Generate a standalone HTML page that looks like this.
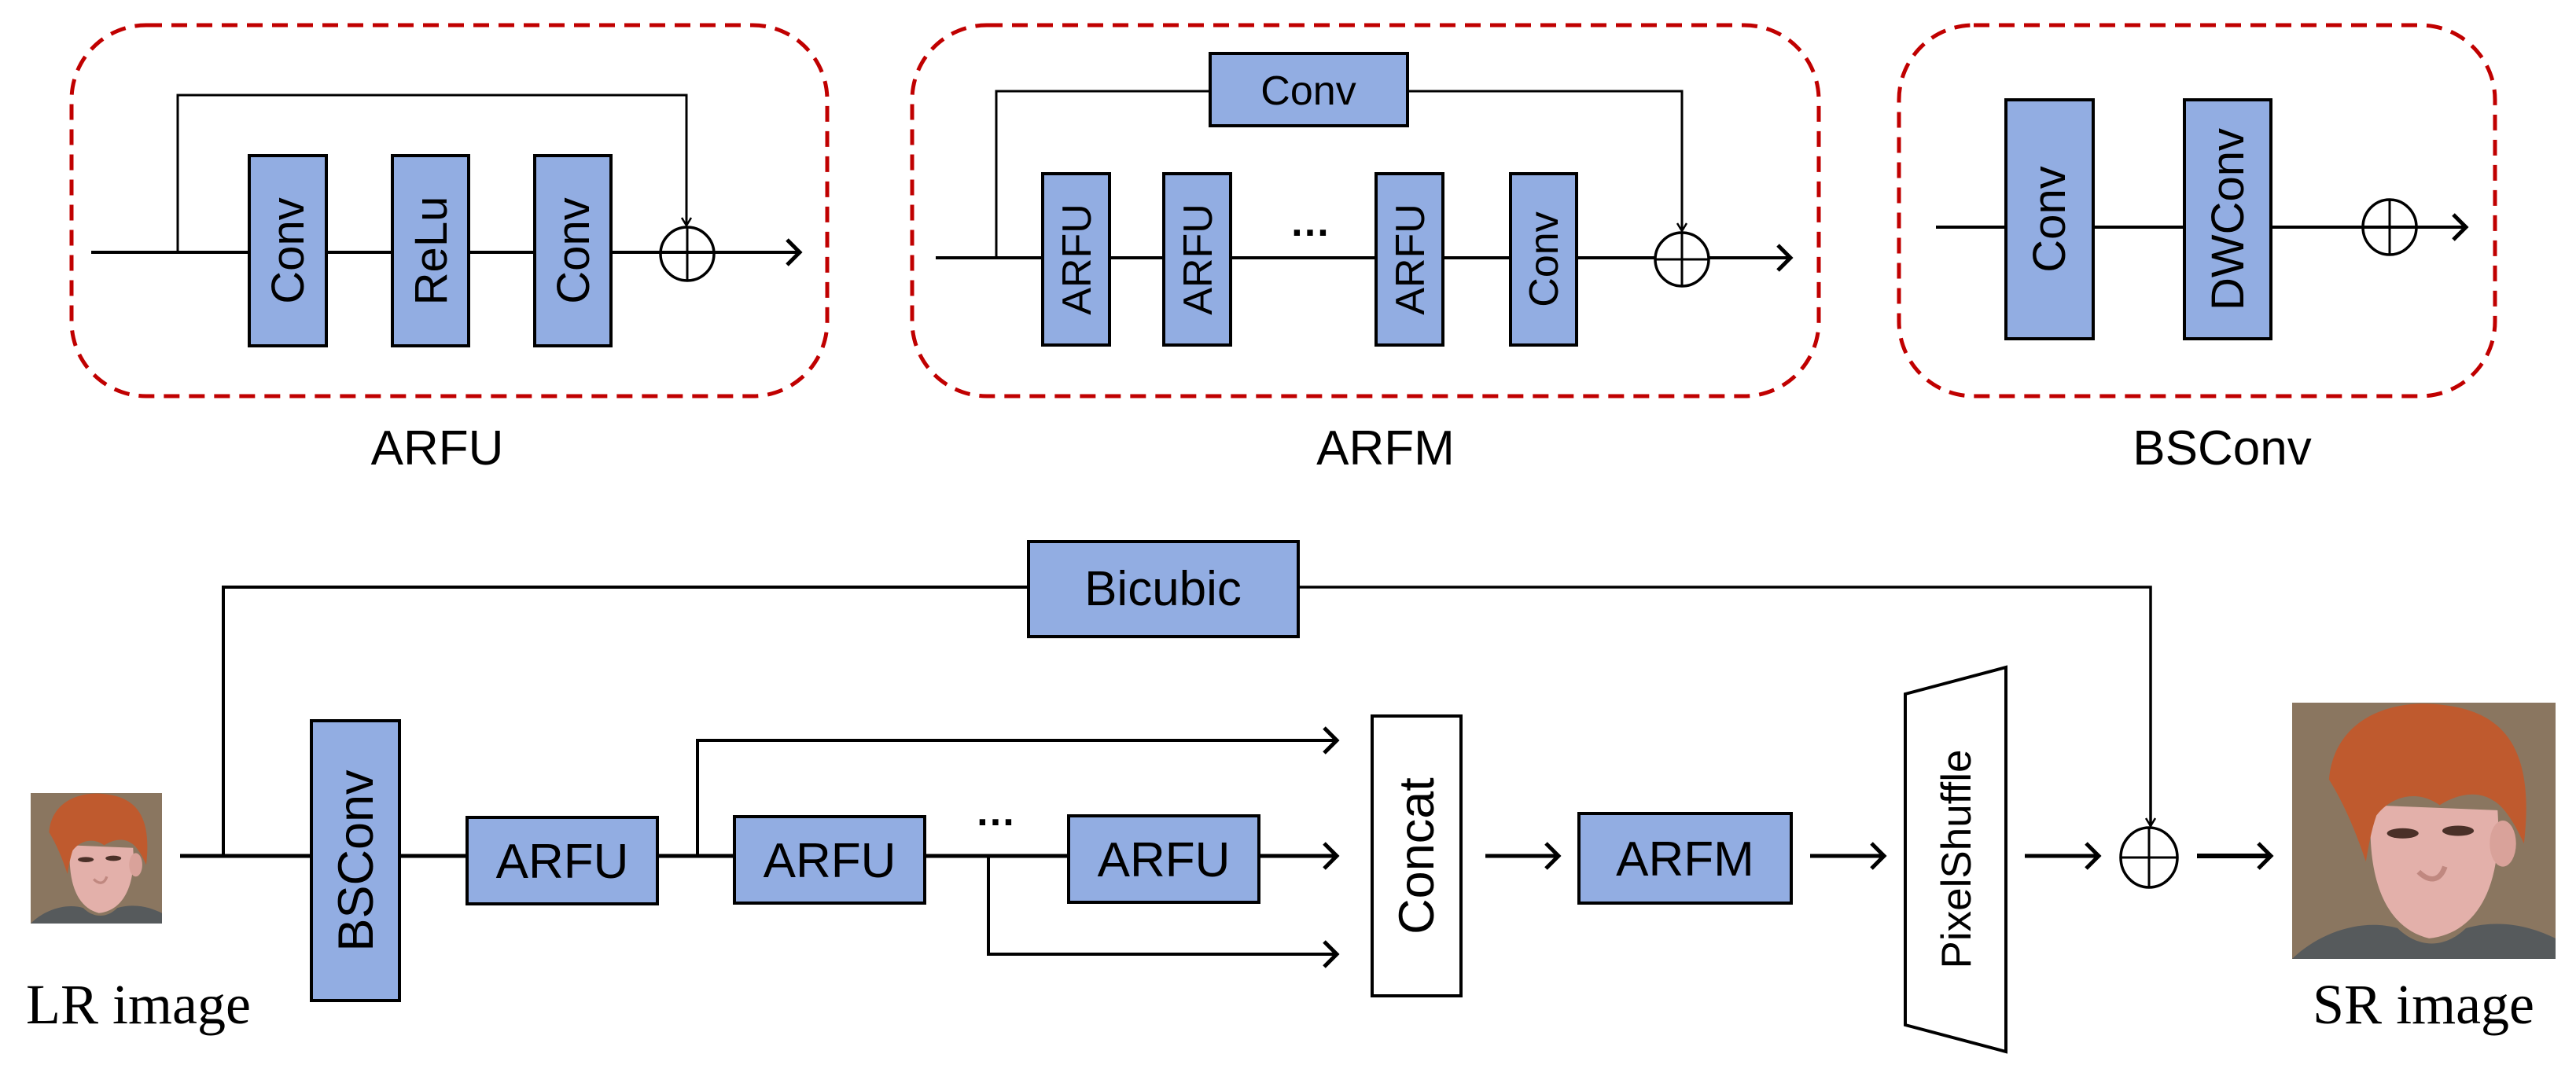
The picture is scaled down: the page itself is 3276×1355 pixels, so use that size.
<!DOCTYPE html>
<html><head><meta charset="utf-8"><style>
html,body{margin:0;padding:0;background:#fff}
svg{display:block}
text{font-family:"Liberation Sans",Arial,sans-serif;fill:#000}
.serif{font-family:"Liberation Serif","Times New Roman",serif}
</style></head><body>
<svg width="3276" height="1355" viewBox="0 0 3276 1355" xmlns="http://www.w3.org/2000/svg">
<defs>
<marker id="ar" markerWidth="14" markerHeight="14" refX="11" refY="7" orient="auto" markerUnits="userSpaceOnUse" viewBox="0 0 14 14">
<polyline points="1,1 11,7 1,13" fill="none" stroke="#000" stroke-width="2.5"/>
</marker>
<marker id="ar2" markerWidth="40" markerHeight="40" refX="30" refY="20" orient="auto" markerUnits="userSpaceOnUse" viewBox="0 0 40 40">
<polyline points="14,4 30,20 14,36" fill="none" stroke="#000" stroke-width="5"/>
</marker>
<g id="face">
<rect x="0" y="0" width="100" height="100" fill="#8a7660"/>
<path d="M30,40 C28,70 36,88 52,92 C70,90 80,72 78,42 Z" fill="#e3b0aa"/>
<ellipse cx="80" cy="55" rx="5" ry="9" fill="#d9a29a"/>
<path d="M14,30 C16,6 38,-2 58,1 C82,4 92,20 88,55 C84,46 80,40 76,38 C70,34 62,36 56,40 C48,34 38,36 32,44 C30,50 29,56 28,62 C24,50 20,40 14,30 Z" fill="#bf5a2e"/>
<ellipse cx="42" cy="51" rx="6" ry="2" fill="#4a3028"/>
<ellipse cx="63" cy="50" rx="6" ry="2" fill="#4a3028"/>
<path d="M48,66 C52,70 56,70 58,64" fill="none" stroke="#c08880" stroke-width="2"/>
<path d="M0,100 C10,90 26,84 40,88 C48,96 58,96 66,88 C80,84 92,88 100,92 L100,100 Z" fill="#565a5c"/>
</g>
</defs>

<!-- ARFU panel -->
<rect x="91" y="32" width="961" height="472" rx="95" ry="95" fill="none" stroke="#c00000" stroke-width="5" stroke-dasharray="20,12"/>
<polyline points="226,321 226,121 873,121 873,287" fill="none" stroke="#000" stroke-width="3" marker-end="url(#ar)"/>
<line x1="116" y1="321" x2="1017" y2="321" stroke="#000" stroke-width="4" marker-end="url(#ar2)"/>
<g fill="#92ade2" stroke="#000" stroke-width="4">
<rect x="317" y="198" width="98" height="242"/>
<rect x="499" y="198" width="97" height="242"/>
<rect x="680" y="198" width="97" height="242"/>
</g>
<text transform="translate(386,319) rotate(-90)" font-size="58" text-anchor="middle">Conv</text>
<text transform="translate(568,319) rotate(-90)" font-size="58" text-anchor="middle">ReLu</text>
<text transform="translate(749,319) rotate(-90)" font-size="58" text-anchor="middle">Conv</text>
<circle cx="874" cy="323" r="34" fill="none" stroke="#000" stroke-width="3.5"/>
<line x1="874" y1="289" x2="874" y2="357" stroke="#000" stroke-width="3"/>
<text x="556" y="591" font-size="62" text-anchor="middle">ARFU</text>

<!-- ARFM panel -->
<rect x="1160" y="32" width="1153" height="472" rx="95" ry="95" fill="none" stroke="#c00000" stroke-width="5" stroke-dasharray="20,12"/>
<polyline points="1267,330 1267,116 2139,116 2139,294" fill="none" stroke="#000" stroke-width="3" marker-end="url(#ar)"/>
<line x1="1190" y1="328" x2="2277" y2="328" stroke="#000" stroke-width="4" marker-end="url(#ar2)"/>
<rect x="1539" y="68" width="251" height="92" fill="#92ade2" stroke="#000" stroke-width="4"/>
<text x="1664" y="133" font-size="52" text-anchor="middle">Conv</text>
<g fill="#92ade2" stroke="#000" stroke-width="4">
<rect x="1326" y="221" width="85" height="218"/>
<rect x="1480" y="221" width="85" height="218"/>
<rect x="1750" y="221" width="85" height="218"/>
<rect x="1921" y="221" width="84" height="218"/>
</g>
<text transform="translate(1387,330) rotate(-90)" font-size="52" text-anchor="middle">ARFU</text>
<text transform="translate(1541,330) rotate(-90)" font-size="52" text-anchor="middle">ARFU</text>
<text transform="translate(1811,330) rotate(-90)" font-size="52" text-anchor="middle">ARFU</text>
<text transform="translate(1981,330) rotate(-90)" font-size="52" text-anchor="middle">Conv</text>
<text x="1666" y="300" font-size="52" text-anchor="middle" font-weight="bold">…</text>
<circle cx="2139" cy="330" r="34" fill="#fff" stroke="#000" stroke-width="3.5"/>
<line x1="2139" y1="296" x2="2139" y2="364" stroke="#000" stroke-width="3"/>
<line x1="2105" y1="330" x2="2173" y2="330" stroke="#000" stroke-width="3"/>
<text x="1762" y="591" font-size="62" text-anchor="middle">ARFM</text>

<!-- BSConv panel -->
<rect x="2415" y="32" width="758" height="472" rx="95" ry="95" fill="none" stroke="#c00000" stroke-width="5" stroke-dasharray="20,12"/>
<line x1="2462" y1="289" x2="3136" y2="289" stroke="#000" stroke-width="4" marker-end="url(#ar2)"/>
<g fill="#92ade2" stroke="#000" stroke-width="4">
<rect x="2551" y="127" width="111" height="304"/>
<rect x="2778" y="127" width="110" height="304"/>
</g>
<text transform="translate(2626,279) rotate(-90)" font-size="58" text-anchor="middle">Conv</text>
<text transform="translate(2853,279) rotate(-90)" font-size="58" text-anchor="middle">DWConv</text>
<ellipse cx="3039" cy="289" rx="34" ry="35" fill="none" stroke="#000" stroke-width="3.5"/>
<line x1="3039" y1="254" x2="3039" y2="324" stroke="#000" stroke-width="3"/>
<text x="2826" y="591" font-size="62" text-anchor="middle">BSConv</text>

<!-- Bottom pipeline -->
<polyline points="284,1091 284,747 1308,747" fill="none" stroke="#000" stroke-width="4"/>
<polyline points="1651,747 2735,747 2735,1051" fill="none" stroke="#000" stroke-width="3.5" marker-end="url(#ar)"/>
<rect x="1308" y="689" width="343" height="121" fill="#92ade2" stroke="#000" stroke-width="4"/>
<text x="1479" y="770" font-size="62" text-anchor="middle">Bicubic</text>

<line x1="229" y1="1089" x2="1700" y2="1089" stroke="#000" stroke-width="5" marker-end="url(#ar2)"/>
<polyline points="887,1091 887,942 1700,942" fill="none" stroke="#000" stroke-width="4" marker-end="url(#ar2)"/>
<polyline points="1257,1089 1257,1214 1700,1214" fill="none" stroke="#000" stroke-width="4" marker-end="url(#ar2)"/>

<rect x="396" y="917" width="112" height="356" fill="#92ade2" stroke="#000" stroke-width="4"/>
<text transform="translate(474,1095) rotate(-90)" font-size="63" text-anchor="middle">BSConv</text>
<g fill="#92ade2" stroke="#000" stroke-width="4">
<rect x="594" y="1040" width="242" height="110"/>
<rect x="934" y="1039" width="242" height="110"/>
<rect x="1359" y="1038" width="242" height="110"/>
<rect x="2008" y="1035" width="270" height="114"/>
</g>
<text x="715" y="1117" font-size="62" text-anchor="middle">ARFU</text>
<text x="1055" y="1116" font-size="62" text-anchor="middle">ARFU</text>
<text x="1480" y="1115" font-size="62" text-anchor="middle">ARFU</text>
<text x="2143" y="1114" font-size="62" text-anchor="middle">ARFM</text>
<text x="1266" y="1050" font-size="52" text-anchor="middle" font-weight="bold">…</text>

<rect x="1745" y="911" width="113" height="356" fill="#fff" stroke="#000" stroke-width="4"/>
<text transform="translate(1823,1089) rotate(-90)" font-size="63" text-anchor="middle">Concat</text>

<line x1="1889" y1="1089" x2="1982" y2="1089" stroke="#000" stroke-width="5" marker-end="url(#ar2)"/>
<line x1="2302" y1="1089" x2="2396" y2="1089" stroke="#000" stroke-width="5" marker-end="url(#ar2)"/>
<polygon points="2423,883 2551,849 2551,1338 2423,1304" fill="#fff" stroke="#000" stroke-width="4"/>
<text transform="translate(2506,1093) rotate(-90)" font-size="53" text-anchor="middle">PixelShuffle</text>
<line x1="2575" y1="1089" x2="2669" y2="1089" stroke="#000" stroke-width="5" marker-end="url(#ar2)"/>
<ellipse cx="2733" cy="1091" rx="36" ry="38" fill="none" stroke="#000" stroke-width="3.5"/>
<line x1="2733" y1="1053" x2="2733" y2="1129" stroke="#000" stroke-width="3"/>
<line x1="2697" y1="1091" x2="2769" y2="1091" stroke="#000" stroke-width="3"/>
<line x1="2794" y1="1089" x2="2888" y2="1089" stroke="#000" stroke-width="6" marker-end="url(#ar2)"/>

<use href="#face" transform="translate(39,1009) scale(1.67,1.66)"/>
<use href="#face" transform="translate(2915,894) scale(3.35,3.26)"/>
<text class="serif" x="176" y="1302" font-size="72" text-anchor="middle">LR image</text>
<text class="serif" x="3082" y="1302" font-size="72" text-anchor="middle">SR image</text>
</svg>
</body></html>
